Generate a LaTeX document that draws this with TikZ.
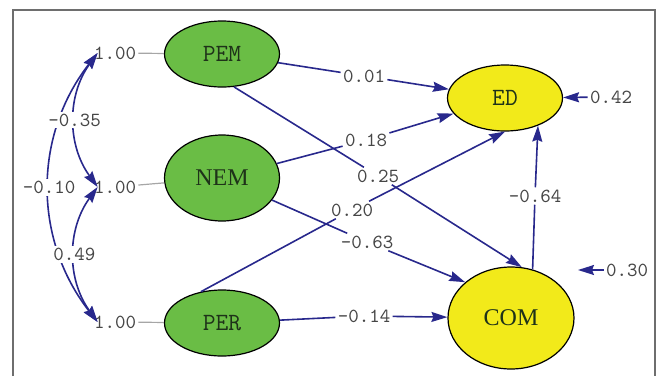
\documentclass[tikz,border=0pt]{standalone}
\usepackage{fontspec}
\setmainfont{Liberation Serif}
\usetikzlibrary{arrows.meta,shapes.geometric}
\definecolor{pathblue}{RGB}{40,40,140}
\definecolor{latgreen}{RGB}{106,189,69}
\definecolor{latyellow}{RGB}{242,234,26}
\definecolor{labelgray}{RGB}{70,70,70}
\definecolor{framegray}{RGB}{110,110,110}
\definecolor{textdark}{RGB}{30,50,25}
\begin{document}
\begin{tikzpicture}[x=0.5pt,y=-0.5pt,
        latent/.style={ellipse,draw,line width=0.6pt,inner sep=0pt,text=textdark,
            minimum width=57.5pt,minimum height=33pt},
        small/.style={font=\ttfamily\fontsize{12.4}{14}\selectfont},
        big/.style={font=\fontsize{12}{14}\selectfont},
        coef/.style={inner sep=1pt,text=labelgray,font=\ttfamily\fontsize{10}{12}\selectfont},
        path/.style={draw=pathblue,line width=0.8pt},
        arr/.style={path,-{Stealth[length=8pt,width=5pt,inset=1pt]}},
        cov/.style={path,{Stealth[length=8pt,width=5pt,inset=1pt]}-{Stealth[length=8pt,width=5pt,inset=1pt]}}]
    \useasboundingbox (0,0) rectangle (659,376);
    \draw [framegray,line width=0.75pt] (13,376) -- (13,10) -- (655,10) -- (655,376);
    % latent variables
    \node [latent,small,fill=latgreen] (PEM) at (222,54) {PEM};
    \node [latent,big,fill=latgreen,minimum height=43pt] (NEM) at (222,178) {NEM};
    \node [latent,small,fill=latgreen] (PER) at (222,323) {PER};
    \node [latent,small,fill=latyellow] (ED) at (505,98) {ED};
    \node [latent,big,fill=latyellow,minimum width=63pt,minimum height=51pt] (COM) at (511,318) {COM};
    % variances
    \node [coef] (v1) at (115,53) {1.00};
    \node [coef] (v2) at (115,187) {1.00};
    \node [coef] (v3) at (115,322) {1.00};
    \draw [gray!70,line width=0.6pt] (v1) -- (PEM);
    \draw [gray!70,line width=0.6pt] (v2) -- (NEM);
    \draw [gray!70,line width=0.6pt] (v3) -- (PER);
    % covariances
    \draw [cov] ([xshift=3pt]v1.west) to[bend right=38] node [coef,fill=white] {-0.10} ([xshift=3pt]v3.west);
    \draw [cov] ([xshift=3pt]v1.west) to[bend right=36] node [coef,fill=white] {-0.35} ([xshift=3pt]v2.west);
    \draw [cov] ([xshift=3pt]v2.west) to[bend right=36] node [coef,fill=white] {0.49} ([xshift=3pt]v3.west);
    % path coefficients
    \node [coef] (l01) at (364,76) {0.01};
    \node [coef] (l18) at (366,140) {0.18};
    \node [coef] (l25) at (378,176) {0.25};
    \node [coef] (l20) at (352,210) {0.20};
    \node [coef] (l63) at (367,242) {-0.63};
    \node [coef] (l14) at (364,316) {-0.14};
    \node [coef] (l64) at (535,196) {-0.64};
    \node [coef] (l42) at (611,97) {0.42};
    \node [coef] (l30) at (627,270) {0.30};
    \coordinate (e30) at (578,270);
    \draw [path] (PEM) -- (l01);
    \draw [arr] (l01) -- (ED);
    \draw [path] (NEM) -- (l18);
    \draw [arr] (l18) -- (ED);
    \draw [path] (PEM.-70) -- (l25);
    \draw [arr] (l25) -- (COM.78);
    \draw [path] (PER.124) -- (l20);
    \draw [arr] (l20) -- (ED.south);
    \draw [path] (NEM) -- (l63);
    \draw [arr] (l63) -- (COM.142);
    \draw [path] (PER) -- (l14);
    \draw [arr] (l14) -- (COM);
    \draw [path] (COM.66) -- (l64);
    \draw [arr] (l64) -- (ED.-40);
    \draw [arr] (l42) -- (ED);
    \draw [arr] (l30) -- (e30);
\end{tikzpicture}
\end{document}
